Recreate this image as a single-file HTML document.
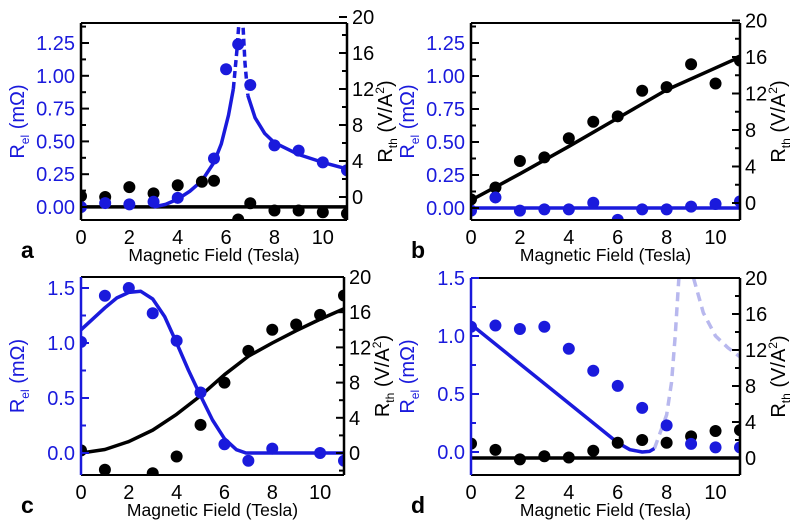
<!DOCTYPE html>
<html><head><meta charset="utf-8"><style>
body{margin:0;background:#fff;}
svg{display:block;font-family:"Liberation Sans",sans-serif;}
</style></head><body>
<svg id="fig" width="800" height="529" viewBox="0 0 800 529"></svg>
<script>
// ---- Data ----
const xTicks=[0,2,4,6,8,10];
// Panel a
const aBlueX=[0,1,2,3,4,5.5,6,6.5,7,8,9,10,11];
const aBlueY=[0,0.03,0.02,0.04,0.07,0.37,1.05,1.24,0.93,0.47,0.43,0.34,0.28];
const aBlackX=[0,1,2,3,4,5,5.5,6.5,7,8,9,10,11];
const aBlackY=[0.1,0,1.1,0.4,1.3,1.7,1.8,-2.5,-0.7,-1.5,-1.5,-1.7,-1.85];
const aFitSolid1X=[3,3.5,4,4.5,5,5.5,5.8,6.1,6.3];
const aFitSolid1Y=[0,0.02,0.06,0.12,0.2,0.34,0.48,0.7,0.9];
const aFitDash1X=[6.3,6.45,6.55];
const aFitDash1Y=[0.9,1.2,1.45];
const aFitDash2X=[6.68,6.78,6.9];
const aFitDash2Y=[1.45,1.1,0.85];
const aFitSolid2X=[6.9,7.2,7.6,8,9,10,11];
const aFitSolid2Y=[0.85,0.68,0.56,0.49,0.4,0.34,0.29];
const aBlackFitX=[0,11];
const aBlackFitY=[-1.1,-1.1];
// Panel b
const bBlueX=[0,1,2,3,4,5,6,7,8,9,10,11];
const bBlueY=[-0.02,0.08,-0.02,-0.01,-0.01,0.04,-0.09,-0.01,-0.01,0.01,0.03,0.05];
const bBlackX=[0,1,2,3,4,5,6,7,8,9,10,11];
const bBlackY=[0.4,1.7,4.6,5.0,7.1,8.9,9.5,12.3,12.7,15.2,13.1,15.6];
const bBlueFitX=[0,11];
const bBlueFitY=[0,0];
const bBlackFitX=[0,2,4,6,8,10,11];
const bBlackFitY=[0.3,3.2,6.2,9.3,12.4,14.8,16.0];
// Panel c
const cBlueX=[0,1,2,3,4,5,6,7,8,10,11];
const cBlueY=[1.01,1.43,1.5,1.27,1.02,0.55,0.08,-0.07,0.04,0,-0.07];
const cBlackX=[0,1,3,4,5,6,7,8,9,10,11];
const cBlackY=[0.3,-1.9,-2.3,-0.4,3.2,8.0,11.6,14.0,14.6,15.7,17.9];
const cBlueFitX=[0,0.5,1,1.5,2,2.5,3,3.5,4,4.5,5,5.5,6,6.5,6.9,11];
const cBlueFitY=[1.12,1.22,1.32,1.41,1.46,1.47,1.4,1.24,1.0,0.75,0.52,0.3,0.13,0.03,0,0];
const cBlackFitX=[0,1,2,3,4,5,6,7,8,9,10,11];
const cBlackFitY=[0,0.4,1.3,2.6,4.4,6.5,8.9,11.0,12.5,13.9,15.2,16.4];
// Panel d
const dBlueX=[0,1,2,3,4,5,6,7,8,9,10,11];
const dBlueY=[1.08,1.09,1.06,1.08,0.89,0.7,0.57,0.38,0.23,0.07,0.04,0.04];
const dBlackX=[0,1,2,3,4,5,6,7,8,9,10,11];
const dBlackY=[1.6,0.9,-0.15,0.2,0.05,0.8,1.7,2.0,1.7,2.4,3.0,3.1];
const dBlueFitX=[0,2,4,6,6.5,7,7.3,7.5];
const dBlueFitY=[1.1,0.76,0.42,0.08,0.02,0,0.005,0.03];
const dLightFit1X=[7.5,8,8.2,8.35,8.5];
const dLightFit1Y=[0.03,0.32,0.6,1.0,1.5];
const dLightFit2X=[9.1,9.5,10,10.5,11];
const dLightFit2Y=[1.5,1.2,1.0,0.9,0.82];
const dBlackFitX=[0,11];
const dBlackFitY=[0,0];

const BLUE="#1a1adc", BLACK="#000";
const NS="http://www.w3.org/2000/svg";
const svg=document.getElementById('fig');
function mk(tag,attrs,parent){const e=document.createElementNS(NS,tag);for(const k in attrs)e.setAttribute(k,attrs[k]);(parent||svg).appendChild(e);return e;}

function panel(cfg){
  const g=mk('g',{});
  
  
  const X=v=>cfg.x0+(v-0)*(cfg.x1-cfg.x0)/11;
  const YL=v=>cfg.l0y+(v)*(cfg.l1y-cfg.l0y)/cfg.l1;
  const YR=v=>cfg.r0y+(v)*(cfg.r1y-cfg.r0y)/cfg.r1;
  const clip=mk('clipPath',{id:'clip'+cfg.id},g);
  mk('rect',{x:cfg.x0,y:cfg.top,width:cfg.x1-cfg.x0,height:cfg.bot-cfg.top},clip);
  const plot=mk('g',{'clip-path':'url(#clip'+cfg.id+')'},g);
  
  
  function line(xs,ys,Y,color,name,dash,op){
    const p=mk('polyline',{points:xs.map((x,i)=>X(x)+','+Y(ys[i])).join(' '),fill:'none',stroke:color,'stroke-width':3.5,'stroke-linejoin':'round'},plot);
    if(dash)p.setAttribute('stroke-dasharray',dash);
    if(op)p.setAttribute('stroke-opacity',op);
    
    
  }
  function pts(xs,ys,Y,color,name){
    xs.forEach((x,i)=>{const c=mk('circle',{cx:X(x),cy:Y(ys[i]),r:6,fill:color},plot);
      
      });
  }
  cfg.draw(line,pts,YL,YR);
  mk('line',{x1:cfg.x0,y1:cfg.top,x2:cfg.x1,y2:cfg.top,stroke:BLACK,'stroke-width':2},g);
  const bx=mk('line',{x1:cfg.x0,y1:cfg.bot,x2:cfg.x1,y2:cfg.bot,stroke:BLACK,'stroke-width':2},g);
  
  
  const la=mk('line',{x1:cfg.x0,y1:cfg.top,x2:cfg.x0,y2:cfg.bot,stroke:cfg.leftColor,'stroke-width':2.5},g);
  
  
  const ra=mk('line',{x1:cfg.x1,y1:cfg.top,x2:cfg.x1,y2:cfg.bot,stroke:BLACK,'stroke-width':2.5},g);
  
  
  cfg.lTicks.forEach((v,i)=>{const y=YL(v);
    mk('line',{x1:cfg.x0,y1:y,x2:cfg.x0+8,y2:y,stroke:cfg.leftColor,'stroke-width':2},g);
    const t=mk('text',{x:cfg.x0-6,y:y+7,'text-anchor':'end','font-size':20,fill:BLUE},g);
    t.textContent=cfg.lLabels[i];
    
    
    const m=YL(v+cfg.lMinor);
    if(m>cfg.top)mk('line',{x1:cfg.x0,y1:m,x2:cfg.x0+5,y2:m,stroke:cfg.leftColor,'stroke-width':2},g);
    if(i==0){const m2=YL(v-cfg.lMinor);if(m2<cfg.bot)mk('line',{x1:cfg.x0,y1:m2,x2:cfg.x0+5,y2:m2,stroke:cfg.leftColor,'stroke-width':2},g);}
  });
  [0,4,8,12,16,20].forEach(v=>{const y=YR(v);
    mk('line',{x1:cfg.x1,y1:y,x2:cfg.x1-8,y2:y,stroke:BLACK,'stroke-width':2},g);
    const m=YR(v+2);if(m>cfg.top)mk('line',{x1:cfg.x1,y1:m,x2:cfg.x1-5,y2:m,stroke:BLACK,'stroke-width':2},g);
    const m2=YR(v-2);if(m2<cfg.bot&&v==0)mk('line',{x1:cfg.x1,y1:m2,x2:cfg.x1-5,y2:m2,stroke:BLACK,'stroke-width':2},g);
    const t=mk('text',{x:cfg.x1+5,y:y+7,'font-size':20,fill:BLACK},g);
    t.textContent=v;
    
    
  });
  xTicks.forEach(v=>{
    const t=mk('text',{x:X(v),y:cfg.bot+24,'text-anchor':'middle','font-size':20,fill:BLACK},g);
    t.textContent=v;
    
    
  });
  const xt=mk('text',{x:(cfg.x0+cfg.x1)/2,y:cfg.bot+41,'text-anchor':'middle','font-size':17.5,fill:BLACK},g);
  xt.textContent='Magnetic Field (Tesla)';
  
  
  const pl=mk('text',{x:cfg.x0-60,y:cfg.bot+38,'font-size':23,'font-weight':'bold',fill:BLACK},g);
  pl.textContent=cfg.id;
  
  
  const cy=(cfg.top+cfg.bot)/2;
  const lx=cfg.x0-57;
  const lt=mk('text',{x:lx,y:cy,'text-anchor':'middle','font-size':20,fill:BLUE,transform:`rotate(-90 ${lx} ${cy})`},g);
  lt.innerHTML='R<tspan font-size="12" dy="5">el</tspan><tspan dy="-5"> (mΩ)</tspan>';
  
  
  const rx=cfg.x1+45;
  const rt=mk('text',{x:rx,y:cy,'text-anchor':'middle','font-size':20,fill:BLACK,transform:`rotate(-90 ${rx} ${cy})`},g);
  rt.innerHTML='R<tspan font-size="12" dy="5">th</tspan><tspan dy="-5"> (V/A</tspan><tspan font-size="12" dy="-8">2</tspan><tspan dy="8">)</tspan>';
  
  
}

const lT1=[0,0.25,0.5,0.75,1,1.25], lL1=['0.00','0.25','0.50','0.75','1.00','1.25'];
const lT2=[0,0.5,1,1.5], lL2=['0.0','0.5','1.0','1.5'];

panel({id:'a',x0:81,x1:347,top:23,bot:220,l0y:207,l1y:43,l1:1.25,r0y:197,r1y:53,r1:16,leftColor:BLACK,lTicks:lT1,lLabels:lL1,lMinor:0.125,
 draw:(line,pts,YL,YR)=>{
  line(aBlackFitX,aBlackFitY,YR,BLACK,'rth-fit-line');
  line(aFitSolid1X,aFitSolid1Y,YL,BLUE,'rel-fit-line');
  line(aFitDash1X,aFitDash1Y,YL,BLUE,'rel-fit-dashed','7,4');
  line(aFitDash2X,aFitDash2Y,YL,BLUE,'rel-fit-dashed','7,4');
  line(aFitSolid2X,aFitSolid2Y,YL,BLUE,'rel-fit-line');
  pts(aBlackX,aBlackY,YR,BLACK,'rth-point');
  pts(aBlueX,aBlueY,YL,BLUE,'rel-point');
 }});
panel({id:'b',x0:471,x1:740,top:23,bot:220,l0y:208,l1y:43,l1:1.25,r0y:203,r1y:57,r1:16,leftColor:BLACK,lTicks:lT1,lLabels:lL1,lMinor:0.125,
 draw:(line,pts,YL,YR)=>{
  line(bBlueFitX,bBlueFitY,YL,BLUE,'rel-fit-line');
  line(bBlackFitX,bBlackFitY,YR,BLACK,'rth-fit-line');
  pts(bBlackX,bBlackY,YR,BLACK,'rth-point');
  pts(bBlueX,bBlueY,YL,BLUE,'rel-point');
 }});
panel({id:'c',x0:81,x1:344,top:277,bot:475,l0y:453,l1y:288,l1:1.5,r0y:453,r1y:277,r1:20,leftColor:BLUE,lTicks:lT2,lLabels:lL2,lMinor:0.25,
 draw:(line,pts,YL,YR)=>{
  line(cBlackFitX,cBlackFitY,YR,BLACK,'rth-fit-line');
  line(cBlueFitX,cBlueFitY,YL,BLUE,'rel-fit-line');
  pts(cBlackX,cBlackY,YR,BLACK,'rth-point');
  pts(cBlueX,cBlueY,YL,BLUE,'rel-point');
 }});
panel({id:'d',x0:471,x1:740,top:278,bot:475,l0y:452,l1y:278,l1:1.5,r0y:458,r1y:278,r1:20,leftColor:BLUE,lTicks:lT2,lLabels:lL2,lMinor:0.25,
 draw:(line,pts,YL,YR)=>{
  line(dBlackFitX,dBlackFitY,YR,BLACK,'rth-fit-line');
  line(dLightFit1X,dLightFit1Y,YL,'#b8b8ee','rel-model-dashed','9,6');
  line(dLightFit2X,dLightFit2Y,YL,'#b8b8ee','rel-model-dashed','9,6');
  line(dBlueFitX,dBlueFitY,YL,BLUE,'rel-fit-line');
  pts(dBlackX,dBlackY,YR,BLACK,'rth-point');
  pts(dBlueX,dBlueY,YL,BLUE,'rel-point');
 }});
</script>
</body></html>
